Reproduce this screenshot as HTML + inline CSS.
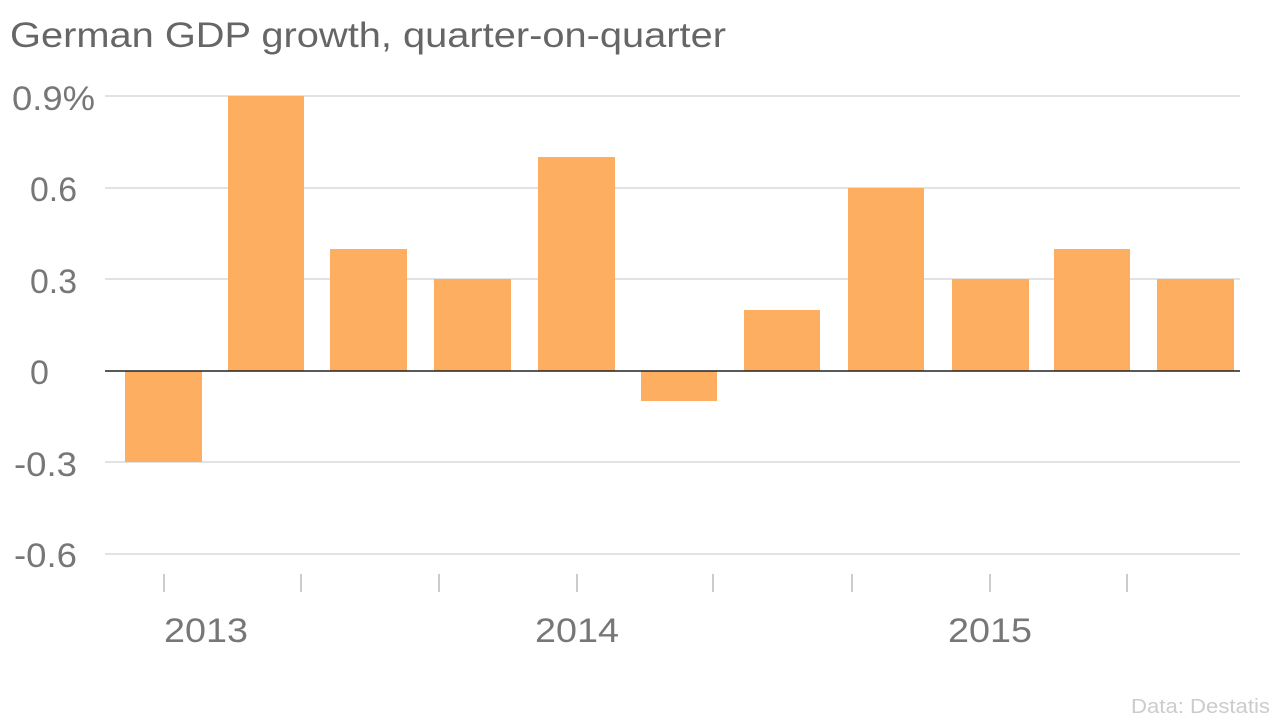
<!DOCTYPE html>
<html><head><meta charset="utf-8"><style>
html,body{margin:0;padding:0;background:#fff;width:1280px;height:720px;overflow:hidden}
svg text{font-family:"Liberation Sans",sans-serif}
</style></head><body>
<svg width="1280" height="720" xmlns="http://www.w3.org/2000/svg">
<text x="10" y="47" font-size="35" fill="#666" textLength="716" lengthAdjust="spacingAndGlyphs">German GDP growth, quarter-on-quarter</text>
<g stroke="#d9d9d9" stroke-width="1.5">
<line x1="105" x2="1240" y1="96" y2="96"/>
<line x1="105" x2="1240" y1="188" y2="188"/>
<line x1="105" x2="1240" y1="279" y2="279"/>
<line x1="105" x2="1240" y1="462" y2="462"/>
<line x1="105" x2="1240" y1="554" y2="554"/>
</g>
<g font-size="34" fill="#777">
<text x="12" y="110" textLength="83" lengthAdjust="spacingAndGlyphs">0.9%</text>
<text x="30" y="201" textLength="47" lengthAdjust="spacingAndGlyphs">0.6</text>
<text x="30" y="293" textLength="47" lengthAdjust="spacingAndGlyphs">0.3</text>
<text x="30" y="384">0</text>
<text x="14" y="476" textLength="63" lengthAdjust="spacingAndGlyphs">-0.3</text>
<text x="14" y="567" textLength="63" lengthAdjust="spacingAndGlyphs">-0.6</text>
</g>
<g fill="#fdae61">
<rect x="125" y="371" width="77" height="91"/>
<rect x="228" y="96" width="76" height="275"/>
<rect x="330" y="249" width="77" height="122"/>
<rect x="434" y="279" width="77" height="92"/>
<rect x="538" y="157" width="77" height="214"/>
<rect x="641" y="371" width="76" height="30"/>
<rect x="744" y="310" width="76" height="61"/>
<rect x="848" y="188" width="76" height="183"/>
<rect x="952" y="279" width="77" height="92"/>
<rect x="1054" y="249" width="76" height="122"/>
<rect x="1157" y="279" width="77" height="92"/>
</g>
<line x1="105" x2="1240" y1="371" y2="371" stroke="#222" stroke-width="1.5"/>
<g stroke="#bbb" stroke-width="1.5">
<line x1="164" x2="164" y1="574" y2="592"/>
<line x1="301" x2="301" y1="574" y2="592"/>
<line x1="439" x2="439" y1="574" y2="592"/>
<line x1="577" x2="577" y1="574" y2="592"/>
<line x1="713" x2="713" y1="574" y2="592"/>
<line x1="852" x2="852" y1="574" y2="592"/>
<line x1="990" x2="990" y1="574" y2="592"/>
<line x1="1127" x2="1127" y1="574" y2="592"/>
</g>
<g font-size="34" fill="#777">
<text x="164" y="642" textLength="84" lengthAdjust="spacingAndGlyphs">2013</text>
<text x="535" y="642" textLength="84" lengthAdjust="spacingAndGlyphs">2014</text>
<text x="948" y="642" textLength="84" lengthAdjust="spacingAndGlyphs">2015</text>
</g>
<text x="1131" y="713" font-size="20" fill="#ccc" textLength="139" lengthAdjust="spacingAndGlyphs">Data: Destatis</text>
</svg>
</body></html>
